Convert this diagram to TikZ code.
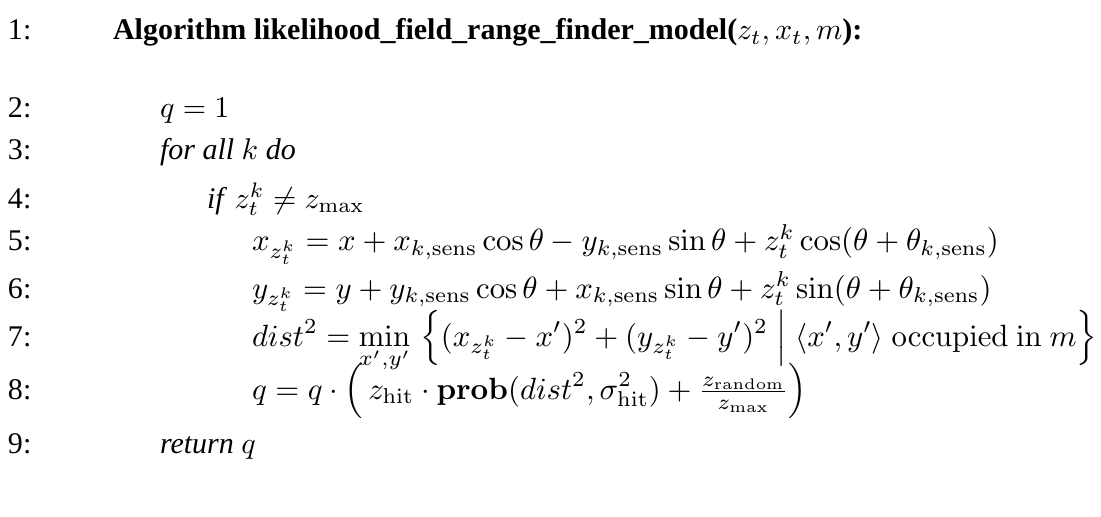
\documentclass[tikz,border=0pt]{standalone}
\usepackage[no-math]{fontspec}
\setmainfont{Liberation Serif}
\usepackage{amsmath}
\begin{document}
\begin{tikzpicture}[x=0.3333pt,y=-0.3333pt,
  every node/.style={inner sep=0pt,outer sep=0pt,anchor=base west,font=\fontsize{10}{12}\selectfont},
  num/.style={}, code/.style={}, mathline/.style={scale=1.025,transform shape}]
\useasboundingbox (0,0) rectangle (1101,517);
\node[num] (n1) at (8,40) {1:};
\node[num] (n2) at (8,118) {2:};
\node[num] (n3) at (8,160) {3:};
\node[num] (n4) at (8,208) {4:};
\node[num] (n5) at (8,251) {5:};
\node[num] (n6) at (8,298) {6:};
\node[num] (n7) at (8,346) {7:};
\node[num] (n8) at (8,399) {8:};
\node[num] (n9) at (8,453) {9:};
\node[num] (l1) at (113,40) {\bfseries Algorithm likelihood\_field\_range\_finder\_model($z_t, x_t, m$):};
\node[code] (l2) at (160,118) {$q = 1$};
\node[code] (l3) at (160,160) {\textit{for all} $k$ \textit{do}};
\node[code] (l4) at (207,208) {\textit{if} $z_t^k \neq z_{\max}$};
\node[mathline] (l5) at (252,251) {$x_{z_t^k} = x + x_{k,\mathrm{sens}}\cos\theta - y_{k,\mathrm{sens}}\sin\theta + z_t^k\cos(\theta+\theta_{k,\mathrm{sens}})$};
\node[mathline] (l6) at (252,298) {$y_{z_t^k} = y + y_{k,\mathrm{sens}}\cos\theta + x_{k,\mathrm{sens}}\sin\theta + z_t^k\sin(\theta+\theta_{k,\mathrm{sens}})$};
\node[mathline] (l7) at (252,346) {$\displaystyle dist^2 = \min_{x',y'}\, \left\{ (x_{z_t^k}-x')^2 + (y_{z_t^k}-y')^2 \;\middle|\; \langle x',y'\rangle \ \mathrm{occupied\ in}\ m \right\}$};
\node[mathline] (l8) at (252,399) {$\displaystyle q = q\cdot\left(\,z_{\mathrm{hit}}\cdot\mathbf{prob}(dist^2,\sigma_{\mathrm{hit}}^2) + \tfrac{z_{\mathrm{random}}}{z_{\max}}\right)$};
\node[code] (l9) at (160,453) {\textit{return} $q$};
\end{tikzpicture}
\end{document}
